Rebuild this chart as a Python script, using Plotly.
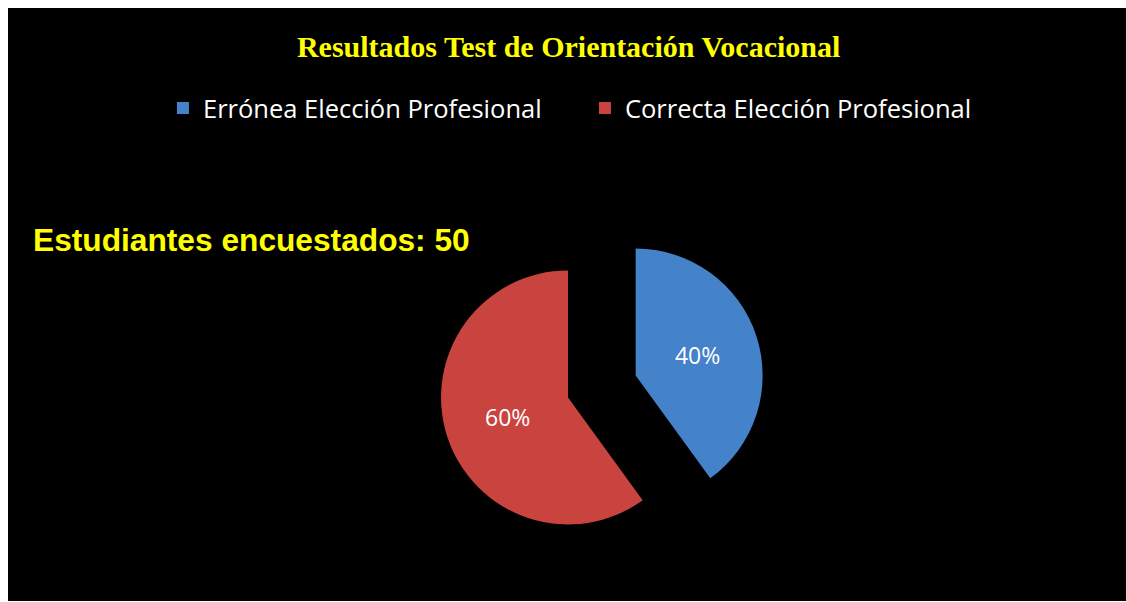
import plotly.graph_objects as go

categories = ["Errónea Elección Profesional", "Correcta Elección Profesional"]
students = [20, 30]
colors = ["#4482CA", "#C9433F"]
title_text = "Resultados Test de Orientación Vocacional"
total = sum(students)

W, H = 1126, 602

fig = go.Figure()
fig.add_trace(go.Pie(
    labels=categories,
    values=students,
    sort=False,
    direction="clockwise",
    rotation=0,
    pull=[0.28, 0.28],
    marker=dict(colors=colors, line=dict(width=0)),
    textinfo="percent",
    texttemplate="%{percent:.0%}",
    textposition="inside",
    insidetextorientation="horizontal",
    textfont=dict(family="Open Sans", size=23, color="white"),
    domain=dict(x=[0.390, 0.679], y=[0.088, 0.628]),
    hoverinfo="label+percent",
))

fig.update_layout(
    width=W, height=H,
    margin=dict(l=0, r=0, t=0, b=0),
    paper_bgcolor="white",
    plot_bgcolor="black",
    title=dict(
        text="<b>" + title_text + "</b>",
        x=0.505, xanchor="center", y=0.922, yanchor="middle",
        font=dict(family="Liberation Serif", size=30, color="#FFFF00"),
    ),
    legend=dict(
        orientation="h",
        x=0.5195, xanchor="center", y=0.82, yanchor="middle",
        font=dict(family="Open Sans", size=25.5, color="white"),
        bgcolor="rgba(0,0,0,0)",
        entrywidth=377, entrywidthmode="pixels",
        itemclick=False,
    ),
    shapes=[dict(
        type="rect", xref="paper", yref="paper",
        x0=8 / W, x1=1.0, y0=1 / H, y1=1 - 8 / H,
        fillcolor="black", line=dict(width=0), layer="below",
    )],
    annotations=[dict(
        text=f"<b>Estudiantes encuestados: {total}</b>",
        xref="paper", yref="paper", x=31 / W, y=1 - 240 / H,
        xanchor="left", yanchor="middle", showarrow=False,
        font=dict(family="Liberation Sans", size=31.7, color="#FFFF00"),
    )],
)

fig.write_html("out.html")
